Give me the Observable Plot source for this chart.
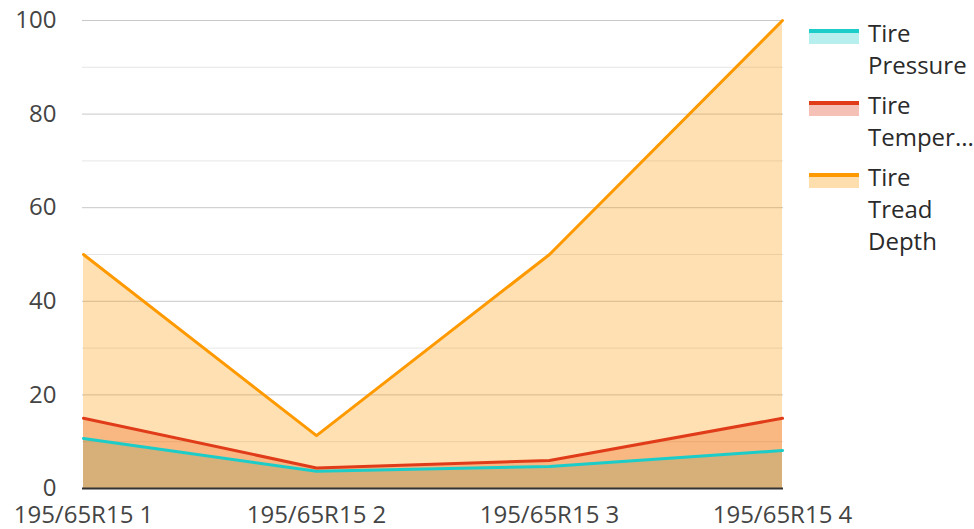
<!DOCTYPE html>
<html>
<head>
<meta charset="utf-8">
<script src="https://cdn.jsdelivr.net/npm/d3@7"></script>
<script src="https://cdn.jsdelivr.net/npm/@observablehq/plot@0.6"></script>
<style>
  html, body { margin: 0; padding: 0; background: #fff; }
  #wrap { position: relative; width: 974px; height: 529px; font-family: "Open Sans", sans-serif; }
  #legend { position: absolute; left: 809px; top: 17px; font-size: 24px; color: #2a2a2a; }
  .item { display: flex; align-items: flex-start; margin-bottom: 8px; }
  .sw { width: 50px; height: 15px; margin-top: 12px; margin-right: 9px; box-sizing: border-box; }
  .lbl { line-height: 32px; white-space: nowrap; }
</style>
</head>
<body>
<div id="wrap"></div>
<script>
const categories = ["195/65R15 1", "195/65R15 2", "195/65R15 3", "195/65R15 4"];
const seriesNames = ["Tire Pressure", "Tire Temperature", "Tire Tread Depth"];
const legendLabels = [["Tire", "Pressure"], ["Tire", "Temper..."], ["Tire", "Tread", "Depth"]];
const pressure = [10.7, 3.7, 4.7, 8.1];
const temperature = [15, 4.4, 6, 15];
const treadDepth = [50, 11.3, 50, 100];
const colors = ["#1cccc8", "#e03c1a", "#ff9900"];
const yTicks = [0, 20, 40, 60, 80, 100];
const yMinor = [10, 30, 50, 70, 90];

const valuesBySeries = [pressure, temperature, treadDepth];
const data = [];
seriesNames.forEach((s, i) => categories.forEach((c, j) => data.push({series: s, cat: c, value: valuesBySeries[i][j]})));

const marks = [
  Plot.ruleY(yMinor, {stroke: "#e6e6e6", strokeWidth: 1}),
  Plot.ruleY(yTicks.filter(d => d > 0), {stroke: "#c8c8c8", strokeWidth: 1})
];
seriesNames.forEach((s, i) => {
  const d = data.filter(r => r.series === s);
  marks.push(Plot.areaY(d, {x: "cat", y: "value", fill: colors[i], fillOpacity: 0.3}));
});
seriesNames.forEach((s, i) => {
  const d = data.filter(r => r.series === s);
  marks.push(Plot.lineY(d, {x: "cat", y: "value", stroke: colors[i], strokeWidth: 3}));
});
marks.push(Plot.ruleY([0], {stroke: "#333", strokeWidth: 2}));
marks.push(Plot.axisY({ticks: yTicks, tickSize: 0, tickPadding: 26, fontSize: 24, color: "#444"}));
marks.push(Plot.axisX({tickSize: 0, tickPadding: 17, fontSize: 24, color: "#444"}));

const chart = Plot.plot({
  width: 800,
  height: 529,
  marginLeft: 82,
  marginRight: 17,
  marginTop: 20,
  marginBottom: 41,
  style: {fontFamily: "'Open Sans', sans-serif", background: "transparent", overflow: "visible"},
  x: {type: "point", domain: categories, padding: 0, label: null},
  y: {domain: [0, 100], label: null},
  marks
});
const wrap = document.getElementById("wrap");
wrap.appendChild(chart);

const legend = document.createElement("div");
legend.id = "legend";
legendLabels.forEach((lines, i) => {
  const item = document.createElement("div");
  item.className = "item";
  const sw = document.createElement("div");
  sw.className = "sw";
  sw.style.background = d3.color(colors[i]).copy({opacity: 0.32}).formatRgb();
  sw.style.borderTop = `4px solid ${colors[i]}`;
  const lbl = document.createElement("div");
  lbl.className = "lbl";
  lbl.innerHTML = lines.join("<br>");
  item.appendChild(sw);
  item.appendChild(lbl);
  legend.appendChild(item);
});
wrap.appendChild(legend);
</script>
</body>
</html>
